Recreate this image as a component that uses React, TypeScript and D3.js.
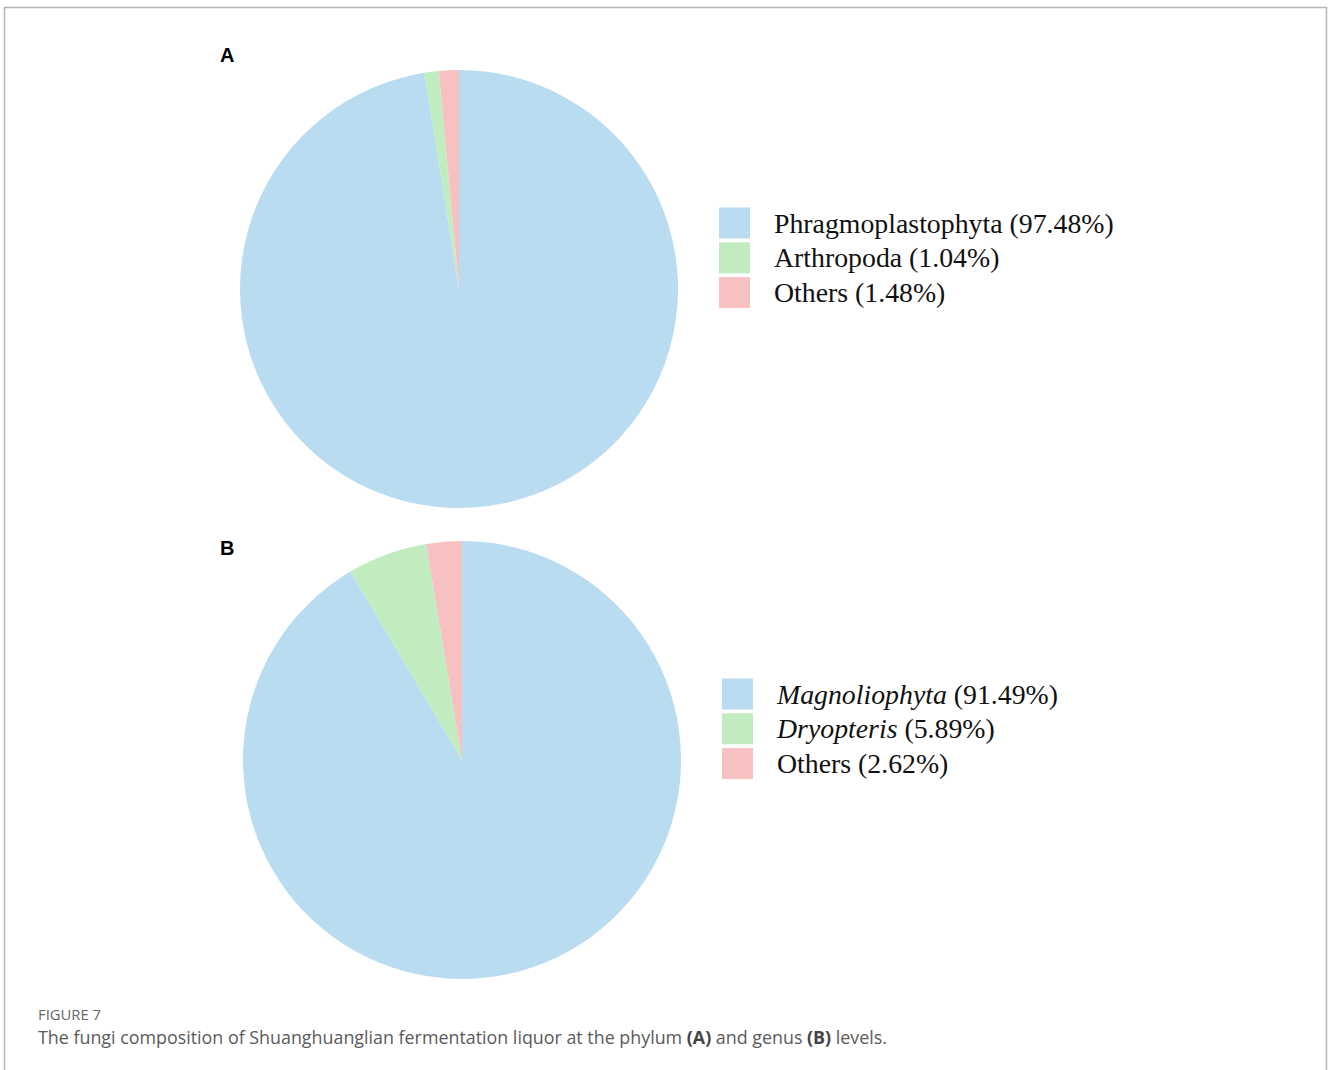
import React from "react";
import * as d3 from "d3";

const catsA = ["Phragmoplastophyta", "Arthropoda", "Others"];
const valsA = [97.48, 1.04, 1.48];
const italicA = [false, false, false];
const catsB = ["Magnoliophyta", "Dryopteris", "Others"];
const valsB = [91.49, 5.89, 2.62];
const italicB = [true, true, false];
const colors = ["#B9DCF1", "#C0ECC0", "#F8C1C1"];

const W = 1328;
const H = 1070;

function Pie({ cx, cy, r, vals }: { cx: number; cy: number; r: number; vals: number[] }) {
  const pie = d3.pie<number>().sort(null).value((d) => d);
  const arc = d3.arc<d3.PieArcDatum<number>>().innerRadius(0).outerRadius(r);
  const arcs = pie(vals);
  return (
    <g transform={`translate(${cx},${cy})`}>
      {arcs.map((a, i) => (
        <path key={i} d={arc(a) || ""} fill={colors[i]} />
      ))}
    </g>
  );
}

function Legend({ x, y, cats, vals, italic }: { x: number; y: number; cats: string[]; vals: number[]; italic: boolean[] }) {
  const step = 34.8;
  return (
    <g transform={`translate(${x},${y})`}>
      {cats.map((c, i) => (
        <g key={i} transform={`translate(0,${i * step})`}>
          <rect x={0} y={0} width={31} height={31} fill={colors[i]} />
          <text x={55} y={25} fontFamily="'Liberation Serif', 'Times New Roman', serif" fontSize={27.8} fill="#111">
            <tspan fontStyle={italic[i] ? "italic" : "normal"}>{c}</tspan>
            <tspan>{` (${vals[i].toFixed(2)}%)`}</tspan>
          </text>
        </g>
      ))}
    </g>
  );
}

export default function App() {
  return (
    <svg width={W} height={H} style={{ position: "absolute", left: 0, top: 0, background: "#fff" }}>
      <path d={`M4.5,${H} V7.5 H1326.5 V${H}`} fill="none" stroke="#b5b5b5" strokeWidth={1.5} />
      <text x={220} y={62} fontFamily="Arial, 'Liberation Sans', sans-serif" fontWeight="bold" fontSize={20} fill="#000">A</text>
      <text x={220} y={555} fontFamily="Arial, 'Liberation Sans', sans-serif" fontWeight="bold" fontSize={20} fill="#000">B</text>
      <Pie cx={459} cy={289} r={219} vals={valsA} />
      <Pie cx={462} cy={760} r={219} vals={valsB} />
      <Legend x={719} y={207.5} cats={catsA} vals={valsA} italic={italicA} />
      <Legend x={722} y={678.5} cats={catsB} vals={valsB} italic={italicB} />
      <text x={38} y={1020} fontFamily="'Open Sans', 'Noto Sans', sans-serif" fontSize={14} fill="#666" textLength={63} lengthAdjust="spacingAndGlyphs">FIGURE 7</text>
      <text x={38} y={1044} fontFamily="'Open Sans', 'Noto Sans', sans-serif" fontSize={17.5} fill="#5a5a5a" textLength={849} lengthAdjust="spacingAndGlyphs">
        The fungi composition of Shuanghuanglian fermentation liquor at the phylum <tspan fontWeight="bold" fill="#444">(A)</tspan> and genus <tspan fontWeight="bold" fill="#444">(B)</tspan> levels.
      </text>
    </svg>
  );
}
